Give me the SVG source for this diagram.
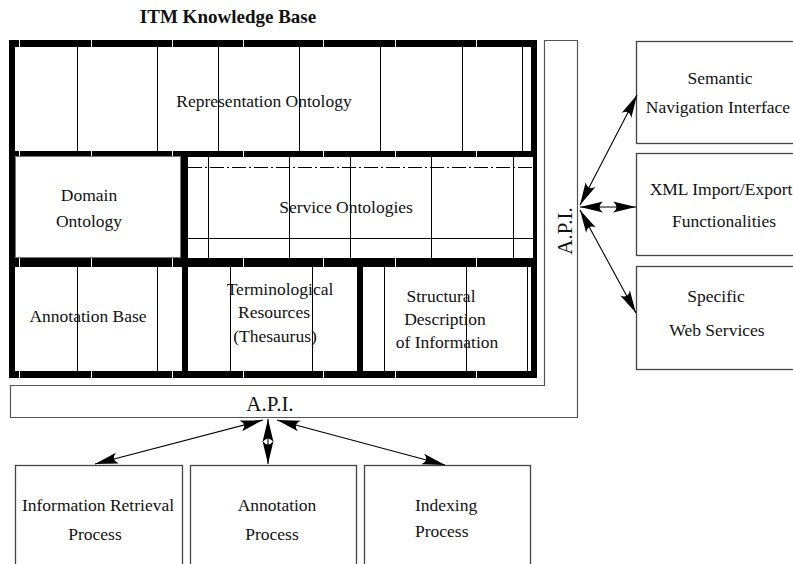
<svg xmlns="http://www.w3.org/2000/svg" width="793" height="564" viewBox="0 0 793 564">
  <style>
    text { font-family: "Liberation Serif", "Times New Roman", serif; fill: #111; }
    .lbl { font-size: 17.5px; text-anchor: middle; }
    .lbl.start { text-anchor: start; }
    .api { font-size: 21px; text-anchor: middle; }
    .title { font-size: 19px; font-weight: bold; text-anchor: middle; }
    .box { fill: #fff; stroke: #444; stroke-width: 1.3; }
    .frame { fill: #000; }
    .cell { fill: #fff; }
    .rule { stroke: #000; stroke-width: 1; fill: none; }
    .dashrule { stroke: #000; stroke-width: 1; stroke-dasharray: 14 3 2 3; fill: none; }
    .tick { stroke: #fff; stroke-width: 1; }
    .apibox { fill: #fff; stroke: #555; stroke-width: 1.2; }
    .arrow { stroke: #000; stroke-width: 1.1; fill: none; marker-start: url(#head); marker-end: url(#head); }
  </style>
  <defs>
    <marker id="head" markerUnits="userSpaceOnUse" markerWidth="26" markerHeight="14" viewBox="-24 -7 26 14" refX="0" refY="0" orient="auto-start-reverse">
      <path d="M0,0 L-23,-5.5 Q-16,0 -23,5.5 Z" fill="#000"/>
    </marker>
  </defs>

  <rect width="793" height="564" fill="#fff"/>

  <text class="title" x="228" y="23">ITM Knowledge Base</text>

  <!-- API strip: L-shaped interface band around the knowledge base -->
  <g id="api">
    <path class="apibox" d="M544.5,40.5 H577.5 V417.5 H10.5 V385.5 H544.5 Z"/>
    <text class="api" transform="translate(572,231) rotate(-90)">A.P.I.</text>
    <text class="api" x="270" y="411">A.P.I.</text>
  </g>

  <!-- Knowledge base: black frame with white cells -->
  <g id="knowledge-base">
    <rect class="frame" x="9" y="40" width="528" height="338"/>
    <!-- horizontal band ticks -->
    <g class="tick">
      <path d="M19.5,40 V47 M91.5,40 V47 M172.5,40 V47 M243.5,40 V47 M323.5,40 V47 M395.5,40 V47 M476.5,40 V47"/>
      <path d="M19.5,151 V157 M91.5,151 V157 M172.5,151 V157 M243.5,151 V157 M323.5,151 V157 M395.5,151 V157 M476.5,151 V157"/>
      <path d="M19.5,258 V267 M91.5,258 V267 M172.5,258 V267 M243.5,258 V267 M323.5,258 V267 M395.5,258 V267 M476.5,258 V267"/>
      <path d="M19.5,371 V378 M91.5,371 V378 M172.5,371 V378 M243.5,371 V378 M323.5,371 V378 M395.5,371 V378 M476.5,371 V378"/>
    </g>
  </g>

  <g id="representation-ontology">
    <rect class="cell" x="15" y="47" width="516" height="104"/>
    <path class="rule" d="M77.5,47 V151 M157.5,47 V151 M218.5,47 V151 M299.5,47 V151 M380.5,47 V151 M462.5,47 V151 M522.5,47 V151"/>
    <text class="lbl" x="264" y="107">Representation Ontology</text>
  </g>

  <g id="domain-ontology">
    <rect x="15.5" y="156.5" width="165" height="101" fill="#fff" stroke="#777" stroke-width="1"/>
    <text class="lbl" x="89" y="201">Domain</text>
    <text class="lbl" x="89" y="227">Ontology</text>
  </g>

  <g id="service-ontologies">
    <rect class="cell" x="188" y="157" width="345" height="101"/>
    <path class="dashrule" d="M188,167.5 H533"/>
    <path class="rule" d="M188,238.5 H533"/>
    <path class="rule" d="M208.5,157 V258 M289.5,157 V258 M350.5,157 V258 M431.5,157 V258 M513.5,157 V258"/>
    <text class="lbl" x="346" y="213">Service Ontologies</text>
  </g>

  <g id="annotation-base">
    <rect class="cell" x="15" y="267" width="167" height="104"/>
    <path class="rule" d="M77.5,267 V371 M157.5,267 V371"/>
    <text class="lbl" x="88" y="322">Annotation Base</text>
  </g>

  <g id="terminological-resources">
    <rect class="cell" x="188" y="267" width="169" height="104"/>
    <path class="rule" d="M230.5,267 V371 M312.5,267 V371"/>
    <text class="lbl" x="280" y="295">Terminological</text>
    <text class="lbl" x="274" y="318">Resources</text>
    <text class="lbl" x="275" y="342">(Thesaurus)</text>
  </g>

  <g id="structural-description">
    <rect class="cell" x="363" y="267" width="168" height="104"/>
    <path class="rule" d="M384.5,267 V371 M466.5,267 V371 M527.5,267 V371"/>
    <text class="lbl" x="441" y="302">Structural</text>
    <text class="lbl" x="445" y="325">Description</text>
    <text class="lbl" x="447" y="348">of Information</text>
  </g>

  <!-- External services -->
  <g id="semantic-navigation">
    <rect class="box" x="636.5" y="41.5" width="170" height="102"/>
    <text class="lbl" x="720" y="84">Semantic</text>
    <text class="lbl" x="718" y="113">Navigation Interface</text>
  </g>
  <g id="xml-import-export">
    <rect class="box" x="636.5" y="153.5" width="170" height="102"/>
    <text class="lbl" x="721" y="195">XML Import/Export</text>
    <text class="lbl" x="724" y="227">Functionalities</text>
  </g>
  <g id="web-services">
    <rect class="box" x="636.5" y="266.5" width="170" height="103"/>
    <text class="lbl" x="716" y="302">Specific</text>
    <text class="lbl" x="717" y="336">Web Services</text>
  </g>

  <!-- Processes -->
  <g id="information-retrieval">
    <rect class="box" x="15.5" y="465.5" width="167" height="110"/>
    <text class="lbl" x="98" y="511">Information Retrieval</text>
    <text class="lbl" x="95" y="540">Process</text>
  </g>
  <g id="annotation-process">
    <rect class="box" x="190.5" y="465.5" width="166" height="110"/>
    <text class="lbl" x="277" y="511">Annotation</text>
    <text class="lbl" x="272" y="540">Process</text>
  </g>
  <g id="indexing-process">
    <rect class="box" x="364.5" y="465.5" width="166" height="110"/>
    <text class="lbl start" x="415" y="511">Indexing</text>
    <text class="lbl start" x="415" y="537">Process</text>
  </g>

  <!-- Connectors -->
  <g id="connectors">
    <line class="arrow" x1="580" y1="205" x2="637" y2="95"/>
    <line class="arrow" x1="580" y1="207" x2="636" y2="207"/>
    <line class="arrow" x1="580" y1="210" x2="636" y2="313"/>
    <line class="arrow" x1="263" y1="420" x2="95" y2="464"/>
    <line class="arrow" x1="268" y1="419" x2="268" y2="464"/>
    <line class="arrow" x1="277" y1="420" x2="445" y2="465"/>
  </g>
</svg>
